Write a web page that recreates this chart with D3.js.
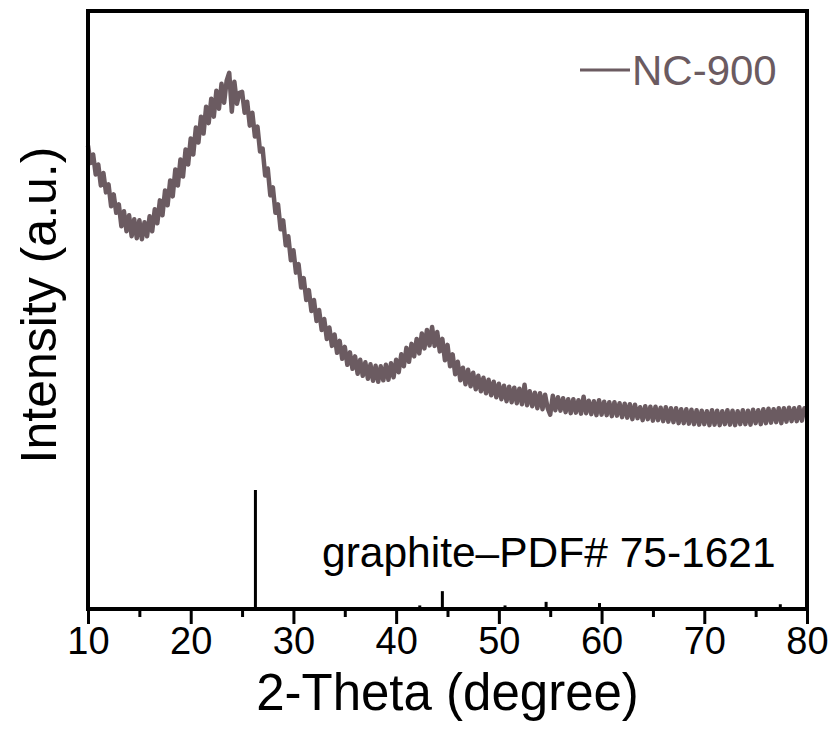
<!DOCTYPE html>
<html>
<head>
<meta charset="utf-8">
<script src="https://cdn.jsdelivr.net/npm/d3@7"></script>
<style>
  body { margin: 0; background: #fff; }
  text { font-family: "Liberation Sans", Arial, sans-serif; }
</style>
</head>
<body>
<div id="chart"></div>
<script>
// 2-theta grid of the scan (degrees), one point every 0.25
var thetaStart = 10, thetaStep = 0.25;

// NC-900 intensity (a.u.)
var nc900 = [
  930, 895, 912, 872,  892, 850, 875, 836,  852, 808, 832, 795,  812, 768, 798, 758,
  790, 748, 782, 744,  780, 742, 776, 748,  788, 758, 802, 774,  820, 790, 840, 810,
  860, 828, 882, 850,  902, 868, 922, 892,  944, 912, 966, 936,  988, 954, 1008, 975,
  1024, 988, 1040, 1004,  1054, 1016, 1060, 1076,  998, 1058, 1014, 1036,  1038, 996, 1018, 970,
  996, 948, 968, 918,  924, 870, 884, 830,  846, 795, 812, 762,  780, 730, 748, 700,
  720, 675, 692, 645,  664, 620, 640, 598,  620, 578, 600, 560,  582, 542, 565, 528,
  551, 514, 538, 502,  526, 490, 515, 482,  507, 472, 500, 468,  495, 462, 491, 458,
  488, 456, 487, 459,  490, 460, 493, 465,  500, 475, 511, 487,  524, 496, 532, 507,
  542, 513, 553, 523,  560, 529, 566, 528,  556, 517, 542, 499,  530, 487, 511, 471,
  496, 459, 484, 451,  480, 447, 474, 441,  468, 437, 464, 433,  460, 429, 456, 425,
  452, 421, 448, 417,  446, 415, 444, 413,  442, 411, 450, 409,  437, 407, 434, 403,
  433, 401, 430, 403,  390, 428, 399, 425,  398, 423, 395, 421,  393, 421, 394, 419,
  392, 426, 393, 418,  391, 417, 389, 419,  390, 416, 389, 415,  387, 415, 388, 413,
  385, 412, 384, 411,  381, 410, 383, 405,  379, 407, 381, 406,  378, 406, 379, 404,
  377, 405, 376, 403,  375, 403, 373, 401,  373, 401, 372, 400,  371, 399, 370, 398,
  371, 397, 369, 399,  370, 398, 369, 397,  371, 399, 370, 398,  369, 397, 371, 399,
  371, 398, 370, 400,  373, 399, 371, 401,  373, 402, 374, 401,  375, 403, 373, 403,
  376, 404, 377, 403,  377, 405, 378, 403,  392
];

// graphite reference pattern PDF# 75-1621 (2-theta, relative intensity %)
var refTheta = [26.3, 42.3, 44.5, 50.6, 54.6, 59.8, 77.4];
var refInt = [100, 3, 15, 3, 6, 5, 4];

var xTicks = [10, 20, 30, 40, 50, 60, 70, 80];
var xMinorTicks = [15, 25, 35, 45, 55, 65, 75];

var seriesName = 'NC-900';
var refName = 'graphite\u2013PDF# 75-1621';
var curveColor = '#6b5b61';

var W = 837, H = 733;
var m = {l: 88, r: 30, t: 11, b: 124};
var w = W - m.l - m.r, h = H - m.t - m.b;

var svg = d3.select('#chart').append('svg')
  .attr('width', W)
  .attr('height', H);

var g = svg.append('g')
  .attr('transform', 'translate(' + m.l + ',' + m.t + ')');

var x = d3.scaleLinear().domain([10, 80]).range([0, w]);
var y = d3.scaleLinear().domain([0, 1200]).range([h, 0]);
// sticks use their own scale, 100 % = about a fifth of the frame
var yRef = d3.scaleLinear().domain([0, 100]).range([h, h - 119]);

var pts = nc900.map(function(v, i) { return [thetaStart + i * thetaStep, v]; });

// reference sticks
g.selectAll('.stick').data(refTheta).enter()
  .append('line').attr('class', 'stick')
  .attr('x1', function(d) { return x(d); })
  .attr('x2', function(d) { return x(d); })
  .attr('y1', yRef(0))
  .attr('y2', function(d, i) { return yRef(refInt[i]); })
  .attr('stroke', '#000')
  .attr('stroke-width', 3);

// XRD curve
var line = d3.line()
  .x(function(d) { return x(d[0]); })
  .y(function(d) { return y(d[1]); });

g.append('path').datum(pts)
  .attr('d', line)
  .attr('fill', 'none')
  .attr('stroke', curveColor)
  .attr('stroke-width', 4.5)
  .attr('stroke-linejoin', 'round');

// bottom axis, major ticks labelled, minor ticks short
var xAxis = g.append('g')
  .attr('transform', 'translate(0,' + h + ')')
  .call(d3.axisBottom(x).tickValues(xTicks).tickSize(15).tickPadding(3).tickFormat(d3.format('d')));

g.append('g')
  .attr('transform', 'translate(0,' + h + ')')
  .call(d3.axisBottom(x).tickValues(xMinorTicks).tickSize(8).tickFormat(''))
  .select('.domain').remove();

g.selectAll('.tick line').attr('stroke', '#000').attr('stroke-width', 3);
xAxis.select('.domain').remove();
xAxis.selectAll('text')
  .attr('font-size', 38)
  .attr('fill', '#000')
  .style('font-family', '"Liberation Sans", Arial, sans-serif');

// frame
g.append('rect')
  .attr('width', w).attr('height', h)
  .attr('fill', 'none')
  .attr('stroke', '#000')
  .attr('stroke-width', 4);

// axis titles
svg.append('text')
  .attr('x', m.l + w / 2)
  .attr('y', 710)
  .attr('text-anchor', 'middle')
  .attr('font-size', 51)
  .text('2-Theta (degree)');

svg.append('text')
  .attr('transform', 'translate(56,' + 305 + ') rotate(-90)')
  .attr('text-anchor', 'middle')
  .attr('font-size', 50)
  .text('Intensity (a.u.)');

// legend
g.append('line')
  .attr('x1', 492).attr('x2', 542)
  .attr('y1', 59).attr('y2', 59)
  .attr('stroke', curveColor)
  .attr('stroke-width', 3);

g.append('text')
  .attr('x', 544).attr('y', 74)
  .attr('font-size', 42)
  .attr('fill', curveColor)
  .text(seriesName);

// reference label
g.append('text')
  .attr('x', 234).attr('y', 556)
  .attr('font-size', 42.5)
  .attr('fill', '#000')
  .text(refName);
</script>
</body>
</html>
